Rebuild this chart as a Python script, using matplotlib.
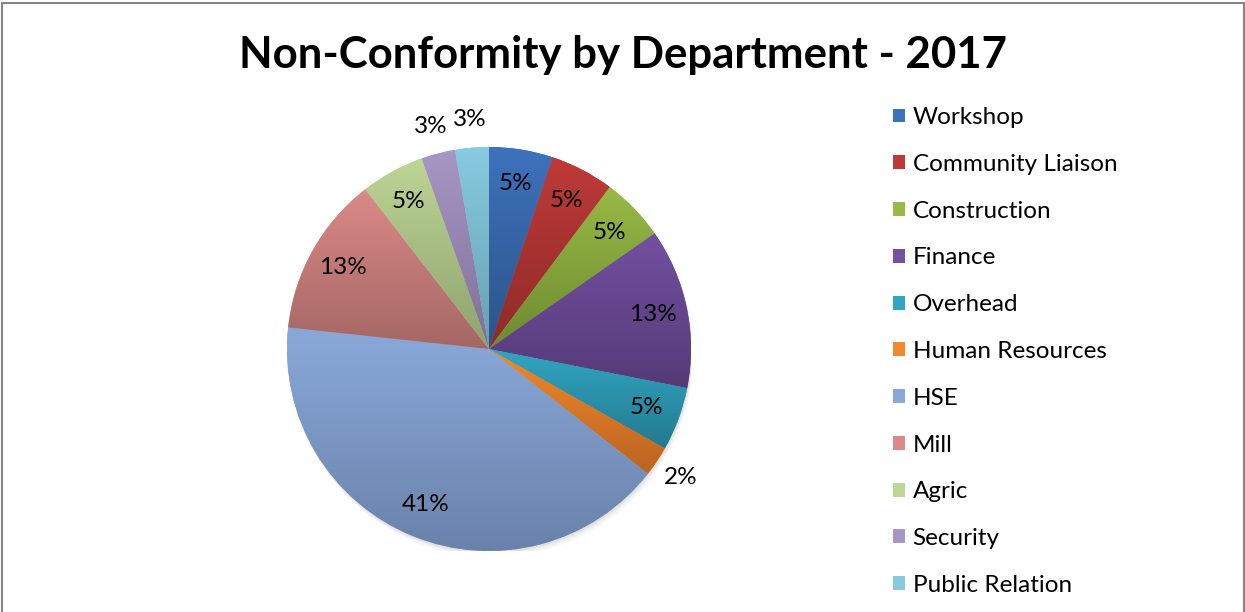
import numpy as np
import matplotlib.pyplot as plt
from matplotlib.colors import LinearSegmentedColormap
from matplotlib.patches import Rectangle

plt.rcParams['font.family'] = ['Lato', 'DejaVu Sans']

departments = ["Workshop", "Community Liaison", "Construction", "Finance", "Overhead",
               "Human Resources", "HSE", "Mill", "Agric", "Security", "Public Relation"]
shares = [5.1, 5.1, 5.1, 12.8, 5.1, 2.4, 41.1, 12.8, 5.1, 2.7, 2.7]

# (top, bottom) of the Excel-style vertical gradient
top_colors = ["#3D72BC", "#BE3A38", "#98BA46", "#7350A0", "#31A5C1", "#F08A2C",
              "#8AA9DA", "#DA8A88", "#BDD595", "#A896C6", "#88CAE0"]
bottom_colors = ["#2C5489", "#8E2B29", "#6D8A30", "#553A77", "#237A8F", "#BB6320",
                 "#6A82AA", "#A46664", "#8EA26E", "#7F7097", "#67A0B0"]

W, H = 1245, 612
fig = plt.figure(figsize=(W / 100, H / 100), dpi=100)

# chart frame
fig.patches.append(Rectangle((1.5 / W, -0.1), (1243.5 - 1.5) / W, 1.1 - 2.5 / H,
                             transform=fig.transFigure, fill=False,
                             edgecolor="#868686", linewidth=1.5))

fig.text(623 / W, 1 - 55 / H, "Non-Conformity by Department - 2017",
         ha="center", va="center", fontsize=31.5, fontweight="bold")

cx, cy, R = 489, 349, 202
ax = fig.add_axes([(cx - R) / W, (H - cy - R) / H, 2 * R / W, 2 * R / H])

wedges, texts, autotexts = ax.pie(shares, colors=top_colors, startangle=90,
                                  counterclock=False, radius=1,
                                  autopct="%.0f%%", pctdistance=0.83,
                                  textprops=dict(fontsize=17.5, color="black"))

# soft shadow under the pie
for k, a in enumerate([0.05, 0.04, 0.03]):
    sh = plt.Circle((0.004 * (k + 1), -0.01 * (k + 1)), 1.0, color="black",
                    alpha=a, zorder=0, linewidth=0)
    ax.add_patch(sh)

for w, c0, c1 in zip(wedges, top_colors, bottom_colors):
    w.set_zorder(1)
    ext = w.get_path().get_extents(w.get_patch_transform())
    cmap = LinearSegmentedColormap.from_list("g", [c1, c0])
    grad = np.linspace(0, 1, 256).reshape(-1, 1)
    im = ax.imshow(grad, cmap=cmap, origin="lower", aspect="auto",
                   extent=[ext.x0, ext.x1, ext.y0, ext.y1], zorder=2,
                   interpolation="bilinear")
    im.set_clip_path(w)

for w, t, v in zip(wedges, autotexts, shares):
    t.set_zorder(5)
    if v < 4:
        ang = np.deg2rad((w.theta1 + w.theta2) / 2)
        t.set_position((1.14 * np.cos(ang), 1.14 * np.sin(ang)))

ax.set_xlim(-1, 1)
ax.set_ylim(-1, 1)
ax.set_aspect("equal")
ax.axis("off")

handles = [Rectangle((0, 0), 1, 1, facecolor=c) for c in top_colors]
leg = fig.legend(handles, departments, loc="upper left",
                 bbox_to_anchor=(881 / W, 1 - 95 / H), frameon=False,
                 fontsize=17.5, handlelength=0.5, handleheight=0.5,
                 handletextpad=0.3, labelspacing=1.06, borderpad=0)

fig.savefig("out.png", dpi=100)
